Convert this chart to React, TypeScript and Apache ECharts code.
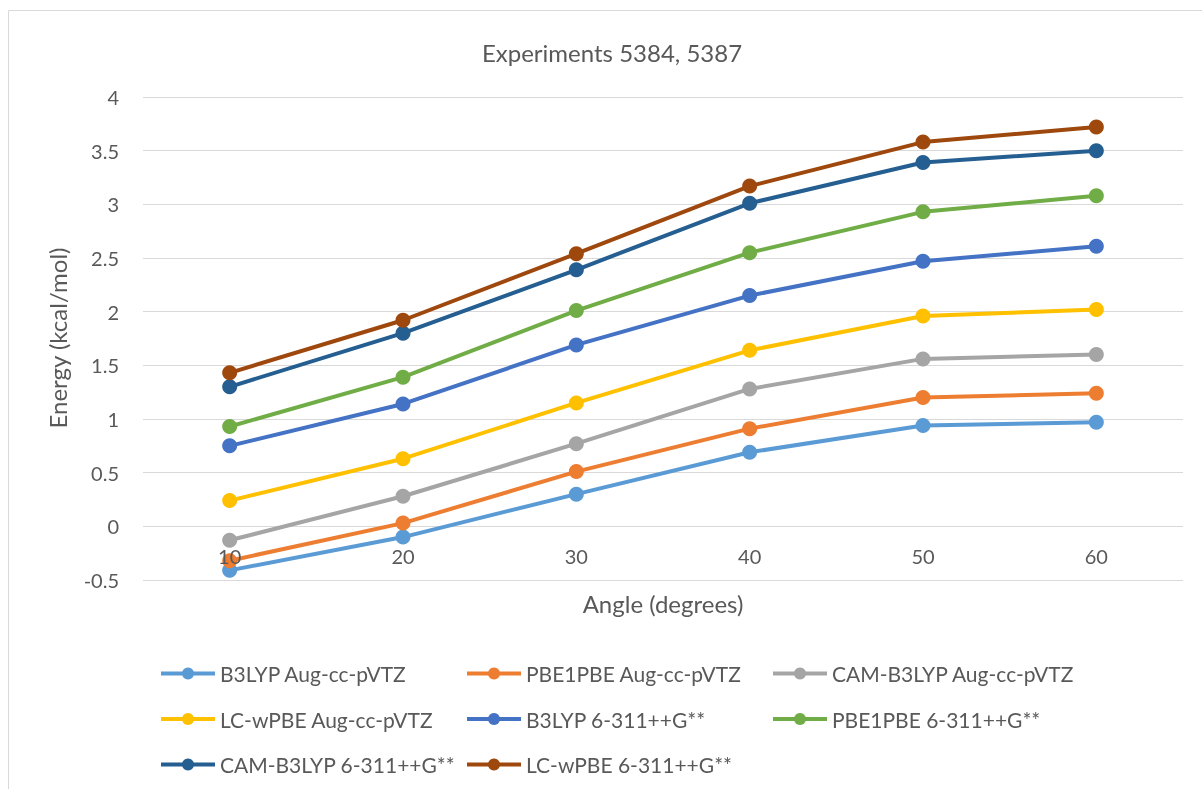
import React, { useEffect, useRef } from "react";
import * as echarts from "echarts";

const angles = ["10", "20", "30", "40", "50", "60"];
const seriesNames = [
  "B3LYP Aug-cc-pVTZ",
  "PBE1PBE Aug-cc-pVTZ",
  "CAM-B3LYP Aug-cc-pVTZ",
  "LC-wPBE Aug-cc-pVTZ",
  "B3LYP 6-311++G**",
  "PBE1PBE 6-311++G**",
  "CAM-B3LYP 6-311++G**",
  "LC-wPBE 6-311++G**",
];
const b3lypAug = [-0.41, -0.1, 0.3, 0.69, 0.94, 0.97];
const pbe1pbeAug = [-0.32, 0.03, 0.51, 0.91, 1.2, 1.24];
const camB3lypAug = [-0.13, 0.28, 0.77, 1.28, 1.56, 1.6];
const lcWpbeAug = [0.24, 0.63, 1.15, 1.64, 1.96, 2.02];
const b3lyp6311 = [0.75, 1.14, 1.69, 2.15, 2.47, 2.61];
const pbe1pbe6311 = [0.93, 1.39, 2.01, 2.55, 2.93, 3.08];
const camB3lyp6311 = [1.3, 1.8, 2.39, 3.01, 3.39, 3.5];
const lcWpbe6311 = [1.43, 1.92, 2.54, 3.17, 3.58, 3.72];
const allValues = [
  b3lypAug,
  pbe1pbeAug,
  camB3lypAug,
  lcWpbeAug,
  b3lyp6311,
  pbe1pbe6311,
  camB3lyp6311,
  lcWpbe6311,
];
const colors = [
  "#5B9BD5",
  "#ED7D31",
  "#A5A5A5",
  "#FFC000",
  "#4472C4",
  "#70AD47",
  "#255E91",
  "#9E480E",
];
const yMin = -0.5;
const yMax = 4;

const FONT = "Lato";
const TEXT = "#595959";

export default function App() {
  const ref = useRef<HTMLDivElement>(null);
  useEffect(() => {
    if (!ref.current) return;
    const chart = echarts.init(ref.current, undefined, { renderer: "svg" });
    const gridTop = 97;
    const gridBottom = 209;
    const gridHeight = 789 - gridTop - gridBottom;
    const zeroOffset = -((0 - yMin) / (yMax - yMin)) * gridHeight;
    const legendCols = [
      [0, 3, 6],
      [1, 4, 7],
      [2, 5],
    ];
    const legendLeft = [159, 465, 771];
    chart.setOption({
      animation: false,
      textStyle: { fontFamily: FONT, color: TEXT },
      grid: { left: 143, right: 19, top: gridTop, bottom: gridBottom },
      graphic: [
        {
          type: "rect",
          shape: { x: 8.5, y: 10.5, width: 1400, height: 1000 },
          style: { fill: "none", stroke: "#d9d9d9", lineWidth: 1 },
          silent: true,
        },
        {
          type: "text",
          x: 612,
          y: 52,
          style: {
            text: "Experiments 5384, 5387",
            fontFamily: FONT,
            fontSize: 24,
            fill: TEXT,
            textAlign: "center",
            textVerticalAlign: "middle",
          },
        },
        {
          type: "text",
          x: 663,
          y: 603,
          style: {
            text: "Angle (degrees)",
            fontFamily: FONT,
            fontSize: 24,
            fill: TEXT,
            textAlign: "center",
            textVerticalAlign: "middle",
          },
        },
        {
          type: "text",
          x: 57,
          y: 338,
          rotation: Math.PI / 2,
          style: {
            text: "Energy (kcal/mol)",
            fontFamily: FONT,
            fontSize: 24,
            fill: TEXT,
            textAlign: "center",
            textVerticalAlign: "middle",
          },
        },
      ],
      legend: legendCols.map((col, i) => ({
        orient: "vertical",
        left: legendLeft[i],
        top: 663,
        padding: 0,
        itemWidth: 54,
        itemHeight: 15,
        itemGap: 24.5,
        data: col.map((k) => seriesNames[k]),
        lineStyle: { width: 4 },
        textStyle: { fontFamily: FONT, fontSize: 21, color: TEXT },
      })),
      xAxis: {
        type: "category",
        data: angles,
        boundaryGap: true,
        position: "bottom",
        offset: zeroOffset,
        z: 30,
        axisLine: { show: false, onZero: false },
        axisTick: { show: false },
        axisLabel: { margin: 20, fontFamily: FONT, fontSize: 20, color: TEXT },
        splitLine: { show: false },
      },
      yAxis: {
        type: "value",
        min: yMin,
        max: yMax,
        interval: 0.5,
        axisLine: { show: false },
        axisTick: { show: false },
        axisLabel: { margin: 24, fontFamily: FONT, fontSize: 20, color: TEXT },
        splitLine: { lineStyle: { color: "#d9d9d9", width: 1 } },
      },
      series: seriesNames.map((name, i) => ({
        name,
        type: "line",
        data: allValues[i],
        symbol: "circle",
        symbolSize: 15,
        lineStyle: { width: 4, color: colors[i] },
        itemStyle: { color: colors[i] },
        z: 2 + i,
      })),
    });
    return () => chart.dispose();
  }, []);
  return (
    <div
      ref={ref}
      style={{ position: "fixed", left: 0, top: 0, width: 1202, height: 789 }}
    />
  );
}
